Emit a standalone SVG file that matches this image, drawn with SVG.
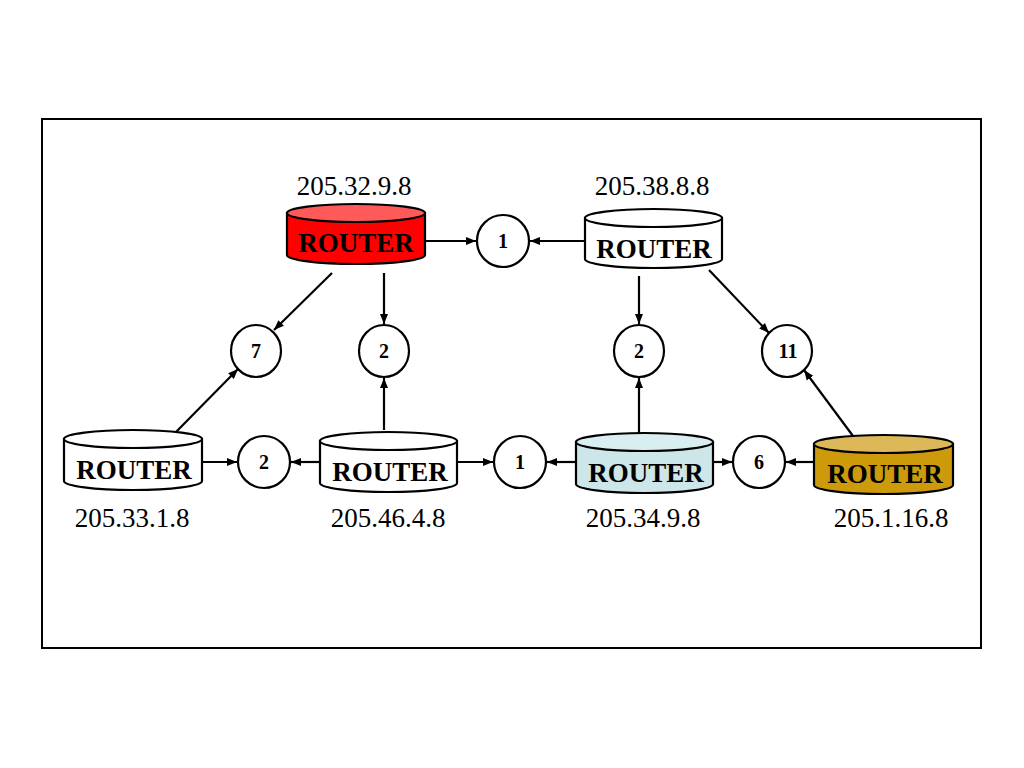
<svg xmlns="http://www.w3.org/2000/svg" width="1024" height="768" viewBox="0 0 1024 768">
<defs>
<marker id="ah" viewBox="0 0 10 10" refX="10" refY="5" markerWidth="10" markerHeight="10" markerUnits="userSpaceOnUse" orient="auto">
<path d="M0,1 L10,5 L0,9 z" fill="#000"/>
</marker>
<style>
.frame{fill:#fff;stroke:#000;stroke-width:2}
.cyl{stroke:#000;stroke-width:2.2}
.rt{font-family:"Liberation Serif",serif;font-weight:bold;font-size:27px;text-anchor:middle;fill:#000}
.ip{font-family:"Liberation Serif",serif;font-size:27px;text-anchor:middle;fill:#000}
.cn{fill:#fff;stroke:#000;stroke-width:2.2}
.num{font-family:"Liberation Serif",serif;font-weight:bold;font-size:20px;text-anchor:middle;fill:#000}
.edge{stroke:#000;stroke-width:2.2;fill:none;marker-end:url(#ah)}
</style>
</defs>
<rect width="1024" height="768" fill="#fff"/>
<rect class="frame" x="42" y="119" width="939" height="529"/>

<g id="connectors">
<line class="edge" x1="426" y1="241" x2="476" y2="241"/>
<line class="edge" x1="584" y1="241" x2="530" y2="241"/>
<line class="edge" x1="332" y1="273" x2="274" y2="330"/>
<line class="edge" x1="384" y1="273" x2="384" y2="324"/>
<line class="edge" x1="175" y1="433" x2="238" y2="369"/>
<line class="edge" x1="384" y1="430" x2="384" y2="378"/>
<line class="edge" x1="203" y1="462" x2="237" y2="462"/>
<line class="edge" x1="320" y1="462" x2="291" y2="462"/>
<line class="edge" x1="458" y1="462" x2="493" y2="462"/>
<line class="edge" x1="576" y1="462" x2="547" y2="462"/>
<line class="edge" x1="714" y1="462" x2="732" y2="462"/>
<line class="edge" x1="814" y1="462" x2="786" y2="462"/>
<line class="edge" x1="639" y1="433" x2="639" y2="378"/>
<line class="edge" x1="639" y1="276" x2="639" y2="324"/>
<line class="edge" x1="709" y1="270" x2="769" y2="333"/>
<line class="edge" x1="853" y1="436" x2="804" y2="370"/>
</g>

<g id="router-205.32.9.8">
<path class="cyl" fill="#ff0000" d="M287,213 L287,255 A69,9 0 0 0 425,255 L425,213 Z"/>
<ellipse class="cyl" fill="#ff5a5a" cx="356" cy="213" rx="69" ry="9"/>
<text class="rt" x="356" y="252">ROUTER</text>
<text class="ip" x="354" y="195">205.32.9.8</text>
</g>

<g id="router-205.38.8.8">
<path class="cyl" fill="#fff" d="M585,218 L585,259 A68.5,9 0 0 0 722,259 L722,218 Z"/>
<ellipse class="cyl" fill="#fff" cx="653.5" cy="218" rx="68.5" ry="9"/>
<text class="rt" x="654" y="258">ROUTER</text>
<text class="ip" x="652" y="195">205.38.8.8</text>
</g>

<g id="router-205.33.1.8">
<path class="cyl" fill="#fff" d="M64,439 L64,481 A69,9 0 0 0 202,481 L202,439 Z"/>
<ellipse class="cyl" fill="#fff" cx="133" cy="439" rx="69" ry="9"/>
<text class="rt" x="134" y="479">ROUTER</text>
<text class="ip" x="132" y="527">205.33.1.8</text>
</g>

<g id="router-205.46.4.8">
<path class="cyl" fill="#fff" d="M320,441 L320,483 A68.5,9 0 0 0 457,483 L457,441 Z"/>
<ellipse class="cyl" fill="#fff" cx="388.5" cy="441" rx="68.5" ry="9"/>
<text class="rt" x="390" y="481">ROUTER</text>
<text class="ip" x="388" y="527">205.46.4.8</text>
</g>

<g id="router-205.34.9.8">
<path class="cyl" fill="#cde6e9" d="M576,442 L576,484 A68.5,9 0 0 0 713,484 L713,442 Z"/>
<ellipse class="cyl" fill="#d9eef0" cx="644.5" cy="442" rx="68.5" ry="9"/>
<text class="rt" x="646" y="482">ROUTER</text>
<text class="ip" x="643" y="527">205.34.9.8</text>
</g>

<g id="router-205.1.16.8">
<path class="cyl" fill="#cc9a0a" d="M814,444 L814,485 A69.5,9 0 0 0 953,485 L953,444 Z"/>
<ellipse class="cyl" fill="#dcb858" cx="883.5" cy="444" rx="69.5" ry="9"/>
<text class="rt" x="885" y="483">ROUTER</text>
<text class="ip" x="891" y="527">205.1.16.8</text>
</g>

<g id="cost-1-top"><ellipse class="cn" cx="503" cy="241" rx="26" ry="26"/><text class="num" x="503" y="248">1</text></g>
<g id="cost-7"><ellipse class="cn" cx="256" cy="351" rx="25" ry="26"/><text class="num" x="256" y="358">7</text></g>
<g id="cost-2-left"><ellipse class="cn" cx="384" cy="351" rx="25" ry="26"/><text class="num" x="384" y="358">2</text></g>
<g id="cost-2-right"><ellipse class="cn" cx="639" cy="351" rx="25" ry="26"/><text class="num" x="639" y="358">2</text></g>
<g id="cost-11"><ellipse class="cn" cx="787" cy="351" rx="25" ry="26"/><text class="num" x="788" y="358">11</text></g>
<g id="cost-2-bottom"><ellipse class="cn" cx="264" cy="462" rx="26" ry="26"/><text class="num" x="264" y="469">2</text></g>
<g id="cost-1-bottom"><ellipse class="cn" cx="520" cy="462" rx="26" ry="26"/><text class="num" x="520" y="469">1</text></g>
<g id="cost-6"><ellipse class="cn" cx="759" cy="462" rx="26" ry="26"/><text class="num" x="759" y="469">6</text></g>
</svg>
